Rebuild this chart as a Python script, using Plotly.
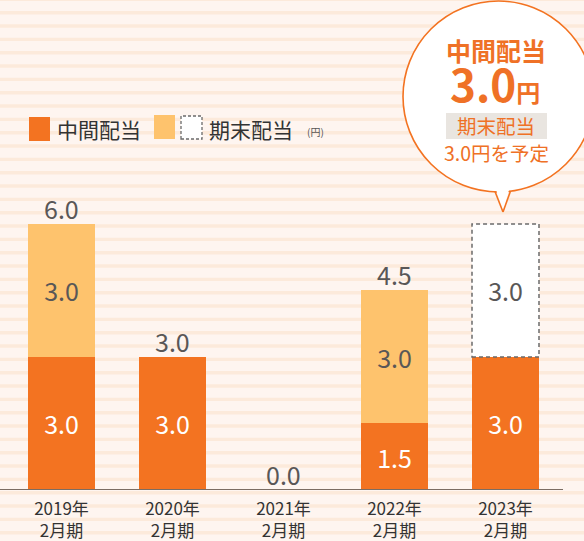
import plotly.graph_objects as go

# ---- data ----
categories = ["2019年<br>2月期", "2020年<br>2月期", "2021年<br>2月期", "2022年<br>2月期", "2023年<br>2月期"]
interim = [3.0, 3.0, 0.0, 1.5, 3.0]          # 中間配当
final = [3.0, 0.0, 0.0, 3.0, None]          # 期末配当
planned = [None, None, None, None, 3.0]     # 期末配当（予定）

# ---- style ----
W, H = 584, 541
B = 51
PH = H - B
FONT = "Noto Sans CJK JP"
DARK = "#F37321"
LIGHT = "#FEC36D"
TXT = "#595757"
ORANGE_TXT = "#EF7126"
BG = "#FEF5F0"
STRIPE = "#FCEADB"

idx = list(range(len(categories)))
bar_w = 67 / 111


def px(x):
    return x / W


def py(y):
    return 1 - y / PH


def fmt(v):
    return f"{v:.1f}" if v else ""


fig = go.Figure()
fig.add_trace(go.Bar(x=idx, y=interim, marker=dict(color=DARK, line=dict(width=0)),
                     text=[fmt(v) for v in interim], textposition="inside",
                     insidetextanchor="middle", textangle=0,
                     textfont=dict(color="white", size=25, family=FONT), name="中間配当"))
fig.add_trace(go.Bar(x=idx, y=final, marker=dict(color=LIGHT, line=dict(width=0)),
                     text=[fmt(v) if v else "" for v in final], textposition="inside",
                     insidetextanchor="middle", textangle=0,
                     textfont=dict(color=TXT, size=25, family=FONT), name="期末配当"))
fig.add_trace(go.Bar(x=idx, y=planned, marker=dict(color="white", line=dict(width=0)),
                     text=[fmt(v) if v else "" for v in planned], textposition="inside",
                     insidetextanchor="middle", textangle=0,
                     textfont=dict(color=TXT, size=25, family=FONT), name="期末配当予定"))

shapes = []
# background stripes
k = -1
while True:
    top = 11 + 13.333 * k
    if top > H:
        break
    shapes.append(dict(type="rect", xref="paper", yref="paper", x0=0, x1=1,
                       y0=py(top + 3.4), y1=py(top), fillcolor=STRIPE,
                       line=dict(width=0), layer="below"))
    k += 1

# dashed outline for planned segment
for i, (a, p) in enumerate(zip(interim, planned)):
    if p:
        shapes.append(dict(type="rect", xref="x", yref="y", x0=i - bar_w / 2, x1=i + bar_w / 2,
                           y0=a, y1=a + p, line=dict(color="#6b6b6b", width=1.5, dash="4px,3px"),
                           fillcolor="rgba(0,0,0,0)"))

# axis line
shapes.append(dict(type="line", xref="paper", yref="y", x0=0, x1=px(563), y0=0, y1=0,
                   line=dict(color="#7b6d63", width=2)))

# legend markers
shapes.append(dict(type="rect", xref="paper", yref="paper", x0=px(29), x1=px(50),
                   y0=py(141), y1=py(117), fillcolor=DARK, line=dict(width=0)))
shapes.append(dict(type="rect", xref="paper", yref="paper", x0=px(154), x1=px(175),
                   y0=py(139), y1=py(115), fillcolor=LIGHT, line=dict(width=0)))
shapes.append(dict(type="rect", xref="paper", yref="paper", x0=px(181), x1=px(202),
                   y0=py(139), y1=py(116), fillcolor="white",
                   line=dict(color="#6b6b6b", width=1.3, dash="3px,2px")))

# callout bubble
cx, cy, r = 498.5, 96.5, 95.5
shapes.append(dict(type="circle", xref="paper", yref="paper", x0=px(cx - r), x1=px(cx + r),
                   y0=py(cy + r), y1=py(cy - r), fillcolor="white",
                   line=dict(color=DARK, width=1.6)))
shapes.append(dict(type="path", xref="paper", yref="paper",
                   path=f"M {px(495)},{py(186)} L {px(503)},{py(212)} L {px(510)},{py(186)} Z",
                   fillcolor="white", line=dict(width=0)))
shapes.append(dict(type="line", xref="paper", yref="paper", x0=px(495), y0=py(191.5),
                   x1=px(503), y1=py(212), line=dict(color=DARK, width=1.6)))
shapes.append(dict(type="line", xref="paper", yref="paper", x0=px(510.5), y0=py(191),
                   x1=px(503), y1=py(212), line=dict(color=DARK, width=1.6)))
shapes.append(dict(type="rect", xref="paper", yref="paper", x0=px(446), x1=px(547),
                   y0=py(139), y1=py(113), fillcolor="#E9E5E0", line=dict(width=0)))

annotations = []
# totals above bars
for i, (a, f, p) in enumerate(zip(interim, final, planned)):
    if p is None:
        tot = a + (f or 0)
        annotations.append(dict(x=i, y=tot, xref="x", yref="y", text=f"{tot:.1f}",
                                showarrow=False, yanchor="middle", yshift=16,
                                font=dict(size=25, color=TXT, family=FONT)))

# legend labels
annotations += [
    dict(x=px(55), y=py(129), xref="paper", yref="paper", text="中間配当", showarrow=False,
         xanchor="left", yanchor="middle", font=dict(size=21, color="#333333", family=FONT)),
    dict(x=px(207), y=py(129), xref="paper", yref="paper", text="期末配当", showarrow=False,
         xanchor="left", yanchor="middle", font=dict(size=21, color="#333333", family=FONT)),
    dict(x=px(305), y=py(131), xref="paper", yref="paper", text="(円)", showarrow=False,
         xanchor="left", yanchor="middle", font=dict(size=10, color="#555555", family=FONT)),
]

# callout text
annotations += [
    dict(x=px(496), y=py(50), xref="paper", yref="paper", text="<b>中間配当</b>", showarrow=False,
         xanchor="center", yanchor="middle", font=dict(size=25, color=ORANGE_TXT, family=FONT)),
    dict(x=px(495), y=py(83), xref="paper", yref="paper",
         text="<b><span style='font-size:44px'>3.0</span><span style='font-size:24px'>円</span></b>",
         showarrow=False, xanchor="center", yanchor="middle",
         font=dict(size=44, color=ORANGE_TXT, family=FONT)),
    dict(x=px(496), y=py(126), xref="paper", yref="paper", text="期末配当", showarrow=False,
         xanchor="center", yanchor="middle", font=dict(size=19.5, color=ORANGE_TXT, family=FONT)),
    dict(x=px(496), y=py(153), xref="paper", yref="paper", text="3.0円を予定", showarrow=False,
         xanchor="center", yanchor="middle", font=dict(size=19.5, color=ORANGE_TXT, family=FONT)),
]

x_left = -61.5 / 111
x_right = (W - 61.5) / 111
fig.update_layout(
    width=W, height=H, margin=dict(l=0, r=0, t=0, b=B),
    barmode="stack", bargap=1 - bar_w, showlegend=False,
    paper_bgcolor=BG, plot_bgcolor="rgba(0,0,0,0)",
    shapes=shapes, annotations=annotations,
    xaxis=dict(range=[x_left, x_right], tickmode="array", tickvals=idx, ticktext=categories,
               showgrid=False, zeroline=False, showline=False, ticks="", ticklabelstandoff=7,
               automargin=False,
               tickfont=dict(size=17, color="#333333", family=FONT), fixedrange=True),
    yaxis=dict(range=[0, PH / 44.35], showgrid=False, zeroline=False, showline=False,
               showticklabels=False, fixedrange=True, automargin=False),
    uniformtext=dict(minsize=8, mode="show"),
)

fig.write_html("out.html")
